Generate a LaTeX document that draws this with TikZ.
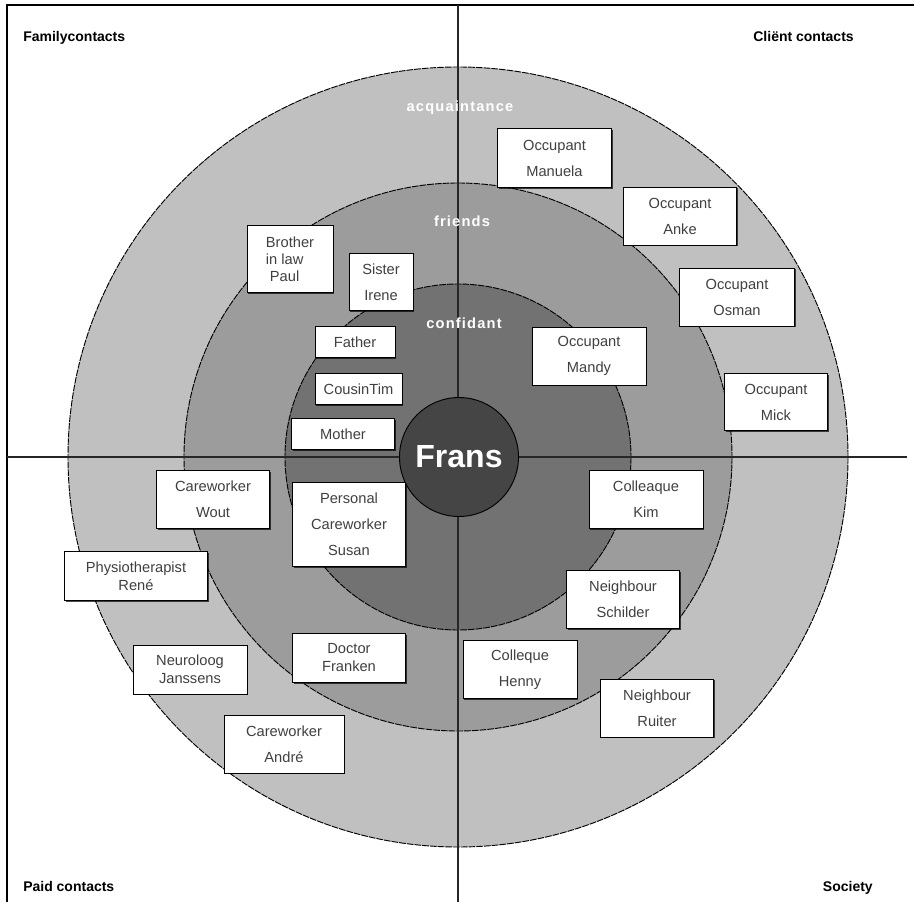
\documentclass[tikz,border=0pt]{standalone}
\usepackage{fontspec}
\setmainfont{Liberation Sans}
\usetikzlibrary{shadows}
\definecolor{acqgray}{HTML}{C0C0C0}
\definecolor{frigray}{HTML}{9C9C9C}
\definecolor{congray}{HTML}{727272}
\definecolor{frgray}{HTML}{454545}
\begin{document}
\begin{tikzpicture}[x=0.75pt,y=-0.75pt,
        ring/.style={draw=black, line width=0.7pt, dash pattern=on 5pt off 0.8pt},
        axis/.style={draw=black!85, line width=1.2pt},
        person/.style 2 args={draw=black, line width=0.7pt, fill=white, inner sep=0pt,
            drop shadow={shadow xshift=0.8pt, shadow yshift=-0.8pt, opacity=0.7, fill=black},
            align=center, text=black!75, font=\fontsize{11}{19.5}\selectfont,
            minimum width=#1*0.75pt, minimum height=#2*0.75pt},
        tight/.style={font=\fontsize{11}{13.5}\selectfont},
        ringname/.style={text=white, inner sep=0pt,
            font=\bfseries\fontsize{11}{13}\selectfont\addfontfeature{LetterSpace=8}},
        corner/.style={inner sep=0pt, font=\bfseries\fontsize{10.5}{12}\selectfont}]
                \useasboundingbox (0,0) rectangle (914,902);
                \fill[white] (0,0) rectangle (914,902);
                
                % rings
                \draw[ring, fill=acqgray] (458,457) circle (390);
                \draw[ring, fill=frigray] (458,457) circle (274);
                \draw[ring, fill=congray] (458,457) circle (173);
                
                % frame and axes
                \draw[line width=1.8pt] (7,902) -- (7,5) -- (914,5);
                \draw[axis] (7,457) -- (907,457);
                \draw[axis] (458,5) -- (458,902);
                
                \node[circle, draw=black, line width=0.7pt, fill=frgray, text=white,
                      minimum size=119*0.75pt, inner sep=0pt,
                      font=\bfseries\fontsize{24}{28}\selectfont] (frans) at (459,457) {Frans};
                
                \node[ringname] (acq) at (460,108) {acquaintance};
                \node[ringname] (fri) at (462,221) {friends};
                \node[ringname] (con) at (464,323) {confidant};
                
                \node[corner, anchor=base west] (family) at (23,42) {Familycontacts};
                \node[corner, anchor=base east] (client) at (854,42) {Cliënt contacts};
                \node[corner, anchor=base west] (paid) at (23,891) {Paid contacts};
                \node[corner, anchor=base east] (society) at (873,891) {Society};
                
                % family
                \node[person={86}{67}, align=left, font=\fontsize{11}{12.75}\selectfont] (paul) at (290,259) {Brother\\in law\\\hspace{3pt}Paul};
                \node[person={64}{57}] (irene) at (381,282) {Sister\\Irene};
                \node[person={80}{31}] (father) at (355,342) {Father};
                \node[person={87}{31}] (tim) at (358.5,389) {CousinTim};
                \node[person={103}{31}] (mother) at (343,434) {Mother};
                
                % clients
                \node[person={114}{59}] (manuela) at (554.5,158) {Occupant\\Manuela};
                \node[person={113}{58}] (anke) at (680,216) {Occupant\\Anke};
                \node[person={115}{58}] (osman) at (737,297) {Occupant\\Osman};
                \node[person={114}{58}] (mandy) at (589,356) {Occupant\\Mandy};
                \node[person={103}{57}] (mick) at (776,402) {Occupant\\Mick};
                
                % paid
                \node[person={113}{58}] (wout) at (213,499.5) {Careworker\\Wout};
                \node[person={113}{84}] (susan) at (349,524.5) {Personal\\Careworker\\Susan};
                \node[person={143}{49}, tight] (rene) at (136,576) {Physiotherapist\\René};
                \node[person={113}{49}, tight] (franken) at (349,658) {Doctor\\Franken};
                \node[person={114}{49}, tight] (janssens) at (190,669.5) {Neuroloog\\Janssens};
                \node[person={120}{58}] (andre) at (284,744) {Careworker\\André};
                
                % society
                \node[person={114}{58}] (kim) at (646,499.5) {Colleaque\\Kim};
                \node[person={113}{58}] (schilder) at (623,599.5) {Neighbour\\Schilder};
                \node[person={114}{58}] (henny) at (520,669.5) {Colleque\\Henny};
                \node[person={113}{58}] (ruiter) at (657,708) {Neighbour\\Ruiter};
            \end{tikzpicture}
\end{document}
